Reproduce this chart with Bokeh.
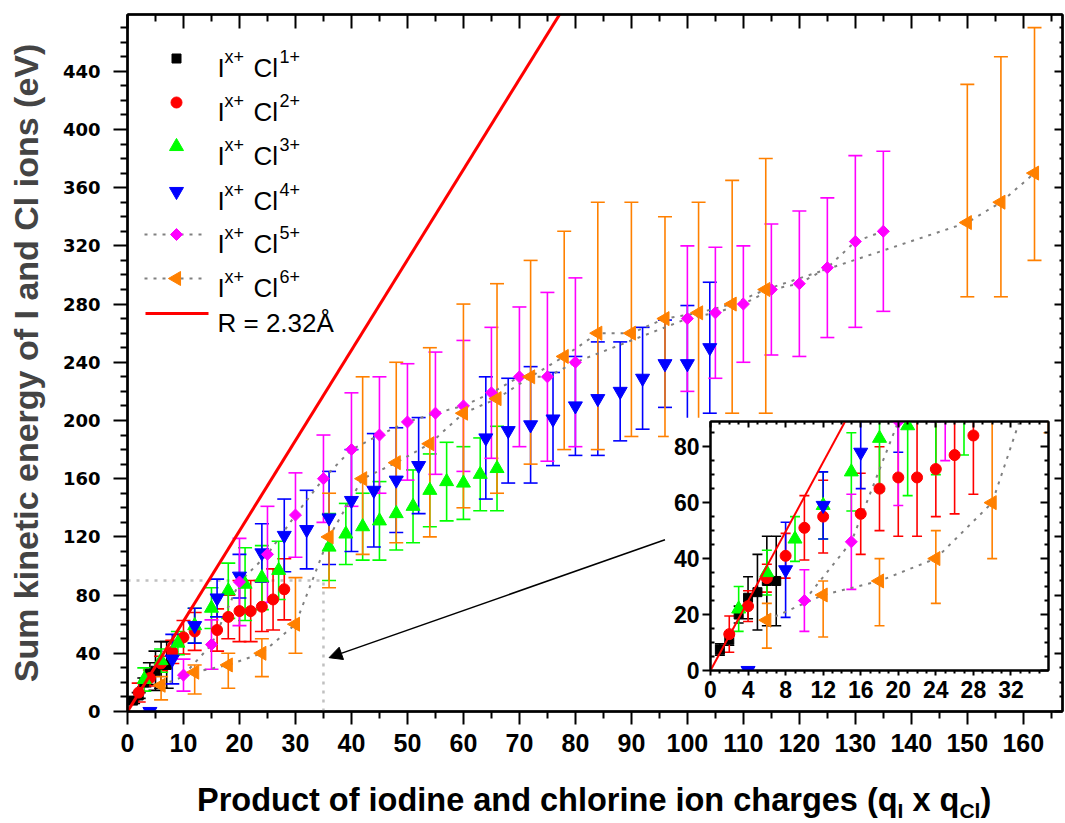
import math
from bokeh.plotting import figure
from bokeh.models import (Range1d, LinearAxis, FixedTicker, CustomJSTickFormatter, Label, Arrow,
                          NormalHead, GridBox, ColumnDataSource, Div)
from bokeh.embed import file_html
from bokeh.resources import INLINE

# ---------------- data ----------------
cl1_x = [1, 2, 3, 4, 5, 6, 7]
cl1_y = [7.5, 11, 20, 26, 28, 32, 32]
cl1_err = [2, 2, 3, 7.5, 13.5, 16, 16]

cl2_x = [2, 4, 6, 8, 10, 12, 16, 18, 20, 22, 24, 26, 28]
cl2_y = [13, 23, 33, 41, 51, 55, 56, 65, 69, 69, 72, 77, 84]
cl2_err = [6.5, 5.5, 5, 8, 11.5, 13, 14.5, 15, 21, 21, 17, 21, 21]

cl3_x = [3, 6, 9, 12, 15, 18, 21, 24, 27, 36, 39, 42, 45, 48, 51, 54, 57, 60, 63, 66]
cl3_y = [22, 35, 47, 59, 71, 83, 87.5, 92, 97, 113, 122, 127, 131, 136, 141, 152, 158, 157, 163, 167]
cl3_err = [8, 8, 8, 12, 14, 19, 25, 22, 20, 23, 21, 23, 27, 25, 25, 25, 27, 25, 25, 29]

cl4_x = [4, 8, 12, 16, 20, 24, 28, 32, 36, 40, 44, 48, 52, 64, 68, 72, 76, 80, 84, 88, 92, 96, 100, 104]
cl4_y = [0, 36, 59, 78, 93, 109, 121, 125, 133, 145, 152, 159, 169, 188, 193, 197, 201, 210,
         215, 220, 229, 239, 239, 250]
cl4_err = [0, 17, 12, 13, 15, 20, 25, 27, 32, 35, 39, 36, 33, 42, 36, 40, 32, 34, 39, 34, 35, 30, 40, 45]

cl5_x = [10, 15, 20, 25, 30, 35, 40, 45, 50, 55, 60, 65, 70, 75, 80, 100, 105, 110, 115, 120, 125, 130, 135]
cl5_y = [25, 46, 89, 108, 135, 160, 180, 190, 199, 205, 210, 219, 230, 230, 240, 270, 274, 280,
         290, 294, 305, 323, 330]
cl5_err = [11, 17, 30, 33, 29, 30, 39, 40, 40, 42, 45, 45, 48, 58, 58, 50, 45, 40, 45, 50, 48, 59, 55]

cl6_x = [6, 12, 18, 24, 30, 36, 42, 48, 54, 60, 66, 72, 78, 84, 90, 96, 102, 108, 114, 150, 156, 162]
cl6_y = [18, 27, 32, 40, 60, 120, 160, 171, 184, 205, 215, 230, 244, 260, 260, 270, 274, 280, 290,
         336, 350, 370]
cl6_lo = [8, 12, 16, 24, 40, 85, 108, 116, 120, 140, 150, 170, 180, 180, 189, 189, 200, 205, 205,
          285, 285, 310]
cl6_hi = [24, 32, 40, 50, 92, 150, 230, 240, 250, 280, 294, 310, 330, 350, 350, 340, 350, 365, 380,
          431, 450, 470]

charges = ["1+", "2+", "3+", "4+", "5+", "6+"]
R_ANGSTROM = 2.32
COULOMB_EV_A = 14.4
r_label = "R = 2.32Å"
x_title_parts = ["Product of iodine and chlorine ion charges (q", "I", " x q", "Cl", ")"]
y_title = "Sum kinetic energy of I and Cl ions (eV)"

main_x_ticks = list(range(0, 161, 10))
main_y_ticks = list(range(0, 441, 40))
inset_x_ticks = list(range(0, 33, 4))
inset_y_ticks = list(range(0, 81, 20))

# ---------------- styles ----------------
SANS = "Liberation Sans"
DEJAVU = "DejaVu Sans"
GRAY = "#808080"


def sym(y, e):
    return [a - b for a, b in zip(y, e)], [a + b for a, b in zip(y, e)]


series = []
for xs, ys, lo_hi, color, marker, size, angle, dotted in [
    (cl1_x, cl1_y, sym(cl1_y, cl1_err), "#000000", "square", 9, 0, False),
    (cl2_x, cl2_y, sym(cl2_y, cl2_err), "#ff0000", "circle", 11, 0, False),
    (cl3_x, cl3_y, sym(cl3_y, cl3_err), "#00ff00", "triangle", 14, 0, False),
    (cl4_x, cl4_y, sym(cl4_y, cl4_err), "#0000ff", "inverted_triangle", 14, 0, False),
    (cl5_x, cl5_y, sym(cl5_y, cl5_err), "#ff00ff", "square", 8.5, math.pi / 4, True),
    (cl6_x, cl6_y, (cl6_lo, cl6_hi), "#ff8000", "triangle", 14, math.pi / 2, True),
]:
    series.append(dict(x=xs, y=ys, lo=lo_hi[0], hi=lo_hi[1], color=color, marker=marker,
                       size=size, angle=angle, dotted=dotted))


def draw_all(fig, cap):
    srcs = [ColumnDataSource(dict(x=s["x"], y=s["y"], lo=s["lo"], hi=s["hi"])) for s in series]
    for s, src in zip(series, srcs):
        fig.segment(x0="x", y0="lo", x1="x", y1="hi", source=src, line_color=s["color"], line_width=1.6)
        for key in ("lo", "hi"):
            fig.scatter(x="x", y=key, source=src, marker="dash", size=cap,
                        line_color=s["color"], line_width=1.6)
    for s, src in zip(series, srcs):
        if s["dotted"]:
            fig.line(x="x", y="y", source=src, line_color=GRAY, line_dash="3 6", line_width=2)
    for s, src in zip(series, srcs):
        fig.scatter(x="x", y="y", source=src, marker=s["marker"], size=s["size"],
                    angle=s["angle"], fill_color=s["color"], line_color=s["color"], line_width=1)


def add_axis(fig, place, ticks, minor, labels, font=SANS, size="18px", tin=0, tout=0,
             min_in=0, min_out=0, lw=2.5, standoff=8):
    ax = LinearAxis(ticker=FixedTicker(ticks=ticks, minor_ticks=minor),
                    axis_line_width=lw, axis_line_color="black",
                    major_tick_line_width=2, minor_tick_line_width=2,
                    major_tick_in=tin, major_tick_out=tout,
                    minor_tick_in=min_in, minor_tick_out=min_out)
    if labels:
        ax.major_label_text_font = font
        ax.major_label_text_font_style = "bold"
        ax.major_label_text_font_size = size
        ax.major_label_standoff = standoff
        ax.major_label_text_color = "black"
    else:
        ax.formatter = CustomJSTickFormatter(code="return ''")
        ax.major_label_text_font_size = "0px"
        ax.major_label_standoff = 0
    fig.add_layout(ax, place)
    return ax


# ---------------- geometry (page pixels) ----------------
W, H = 1065, 820
XB = [0, 668, 1052, W]            # column breakpoints
YB = [0, 417, 708, 762, H]        # row breakpoints
cols = [XB[i + 1] - XB[i] for i in range(len(XB) - 1)]
rows = [YB[i + 1] - YB[i] for i in range(len(YB) - 1)]

BL, BR, BT, BB = 127, 3, 14, 109
X_MAX, Y_MAX = 167, 479
FRAME_L, FRAME_B = BL, H - BB
FRAME_W, FRAME_H = W - BL - BR, H - BT - BB


def to_dx(px):
    return (px - FRAME_L) / FRAME_W * X_MAX


def to_dy(py):
    return (FRAME_B - py) / FRAME_H * Y_MAX


# ---------------- main figure ----------------
p = figure(width=W, height=H, x_range=Range1d(0, X_MAX), y_range=Range1d(0, Y_MAX),
           output_backend="svg", toolbar_location=None, x_axis_type=None, y_axis_type=None,
           min_border_left=BL, min_border_right=BR, min_border_top=BT, min_border_bottom=BB)
p.outline_line_color = "black"
p.outline_line_width = 2
p.background_fill_color = "white"
p.border_fill_color = "white"

mx_minor = [t + 5 for t in main_x_ticks]
my_minor = [v for v in range(0, 480, 10) if v % 40 != 0]

add_axis(p, "below", main_x_ticks, mx_minor, True, font=SANS, size="25px",
         tout=13, min_out=7, standoff=9)
yax = add_axis(p, "left", main_y_ticks, my_minor, True, font=DEJAVU, size="18px",
               tout=14, min_out=7, standoff=13)
yax.axis_label = y_title
yax.axis_label_text_font = SANS
yax.axis_label_text_font_style = "bold"
yax.axis_label_text_font_size = "34px"
yax.axis_label_standoff = 15
add_axis(p, "above", main_x_ticks, mx_minor, False, tin=14, min_in=7)
add_axis(p, "right", main_y_ticks, my_minor, False, tin=8, min_in=3)

RECT_X, RECT_Y = 35, 90
p.line(x=[0, RECT_X, RECT_X], y=[RECT_Y, RECT_Y, 0], line_color="#c0c0c0", line_dash="3 6",
       line_width=2.5)

draw_all(p, 14)
p.line(x=[0, X_MAX], y=[0, X_MAX * COULOMB_EV_A / R_ANGSTROM], line_color="#ff0000", line_width=3)

p.add_layout(Arrow(x_start=96, y_start=118, x_end=36, y_end=37, line_width=1.5, line_color="black",
                   end=NormalHead(size=13, fill_color="black", line_color="black")))

# ---------------- legend (samples + rich text, placed in screen pixels) ----------------
row_page_y = [58, 102, 146, 191, 234, 278]
R_ROW_Y = 313
for s, ry, ch in zip(series, row_page_y, charges):
    if s["dotted"]:
        p.line(x=[to_dx(144), to_dx(202)], y=[to_dy(ry), to_dy(ry)], line_color=GRAY,
               line_dash="3 6", line_width=2)
    p.scatter(x=[to_dx(176)], y=[to_dy(ry)], marker=s["marker"], size=s["size"], angle=s["angle"],
              fill_color=s["color"], line_color=s["color"], line_width=1)
    base = ry + 9
    for txt, px, py, sz in [("I", 217, base, "26px"), ("x+", 224, base - 11, "18px"),
                            ("Cl", 253, base, "26px"), (ch, 279, base - 11, "18px")]:
        p.add_layout(Label(x=px - FRAME_L, y=FRAME_B - py, x_units="screen", y_units="screen",
                           text=txt, text_font=SANS, text_font_size=sz,
                           text_baseline="alphabetic", text_color="black"))
p.line(x=[to_dx(145), to_dx(208)], y=[to_dy(R_ROW_Y), to_dy(R_ROW_Y)], line_color="#ff0000",
       line_width=3)
p.add_layout(Label(x=217 - FRAME_L, y=FRAME_B - (R_ROW_Y + 9), x_units="screen", y_units="screen",
                   text=r_label, text_font=SANS, text_font_size="26px",
                   text_baseline="alphabetic", text_color="black"))

# ---------------- inset ----------------
IW, IH = cols[1], rows[1]
ins = figure(width=IW, height=IH, x_range=Range1d(0, 36), y_range=Range1d(0, 89),
             output_backend="svg", toolbar_location=None, x_axis_type=None, y_axis_type=None,
             min_border_left=42, min_border_right=4, min_border_top=4, min_border_bottom=IH - 4 - 249)
ins.outline_line_color = "black"
ins.outline_line_width = 2
ins.background_fill_color = "white"
ins.border_fill_color = "white"
ix_minor = [v for v in range(0, 37) if v % 4 != 0]
iy_minor = [v for v in range(0, 90, 5) if v % 20 != 0]
add_axis(ins, "below", inset_x_ticks, ix_minor, True, font=SANS, size="23px", tout=5, min_out=3,
         lw=2, standoff=5)
add_axis(ins, "left", inset_y_ticks, iy_minor, True, font=SANS, size="23px", tout=8, min_in=4,
         lw=2, standoff=3)
add_axis(ins, "above", inset_x_ticks, ix_minor, False, tin=6, min_in=3, lw=2)
add_axis(ins, "right", inset_y_ticks, iy_minor, False, tin=8, min_in=4, lw=2)

draw_all(ins, 10)
ins.line(x=[0, 36], y=[0, 36 * COULOMB_EV_A / R_ANGSTROM], line_color="#ff0000", line_width=2)

# ---------------- x-axis title with subscripts (HTML overlay) ----------------
sub_css = "font-size:21px;vertical-align:-7px;line-height:0"
title_html = (
    '<div style="padding-left:197px;padding-top:22px;white-space:nowrap;'
    "font-family:'Liberation Sans',sans-serif;font-weight:bold;font-size:32.5px;"
    'line-height:32px;color:black">'
    f'{x_title_parts[0]}<span style="{sub_css}">{x_title_parts[1]}</span>{x_title_parts[2]}'
    f'<span style="{sub_css}">{x_title_parts[3]}</span>{x_title_parts[4]}</div>'
)
title_div = Div(text=title_html, width=W, height=rows[3], margin=(0, 0, 0, 0))

grid = GridBox(children=[(p, 0, 0, len(rows), len(cols)),
                         (ins, 1, 1, 1, 1),
                         (title_div, 3, 0, 1, len(cols))],
               rows=[f"{r}px" for r in rows], cols=[f"{c}px" for c in cols], spacing=0)

open("out.html", "w").write(file_html(grid, INLINE))
